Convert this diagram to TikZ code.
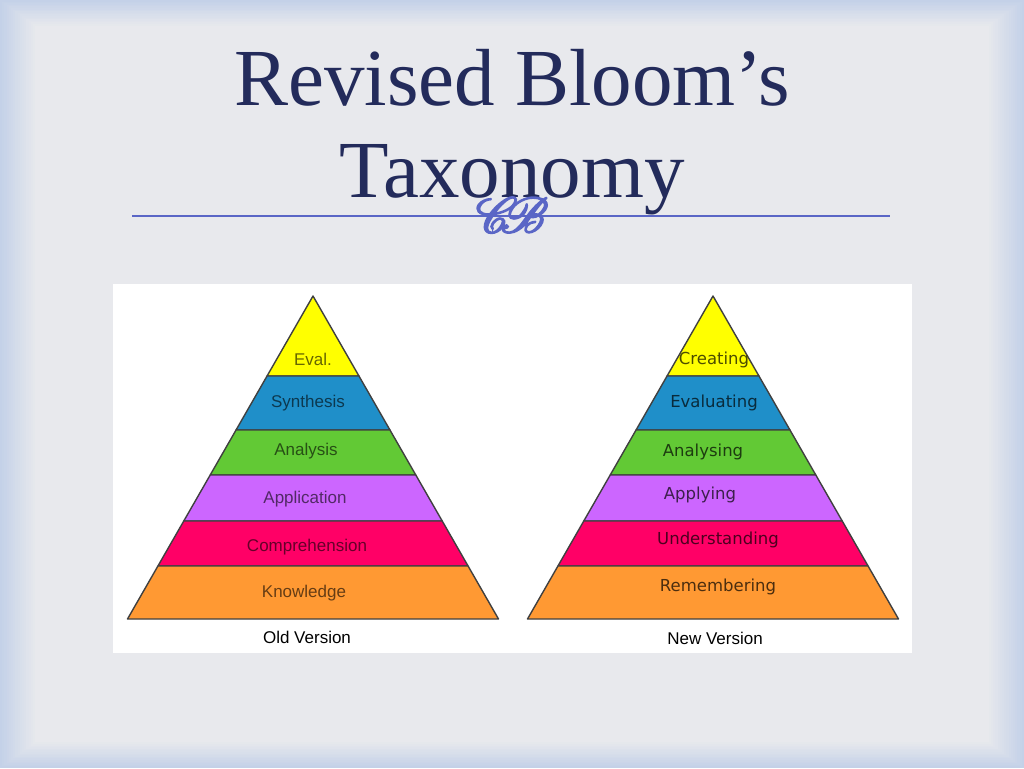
\documentclass[tikz,border=0pt]{standalone}
\usepackage{fontspec}
\usepackage{mathrsfs}
\setmainfont{Liberation Serif}
\newfontfamily\labelfont{Liberation Sans}
\newfontfamily\newlabelfont{DejaVu Sans}

\definecolor{titleblue}{HTML}{232B5B}
\definecolor{ruleblue}{HTML}{5A66C6}
\definecolor{frameblue}{HTML}{C4D1E8}
\definecolor{slidegray}{HTML}{E9EAED}
\definecolor{bandyellow}{HTML}{FFFF00}
\definecolor{bandblue}{HTML}{1F8FC9}
\definecolor{bandgreen}{HTML}{62C935}
\definecolor{bandpurple}{HTML}{CC66FF}
\definecolor{bandpink}{HTML}{FF0066}
\definecolor{bandorange}{HTML}{FF9933}

\tikzset{
	band/.style={draw=black!75,line width=1.4pt,line join=round},
	bandtext/.style={font=\labelfont\fontsize{17}{20}\selectfont},
	newbandtext/.style={font=\newlabelfont\fontsize{16.5}{20}\selectfont},
	caption/.style={font=\labelfont\fontsize{17}{20}\selectfont,text=black}
}

\begin{document}
\begin{tikzpicture}[x=1pt,y=-1pt]
	\useasboundingbox (0,0) rectangle (1024,768);
	\foreach \i in {0,...,16} {
		\pgfmathtruncatemacro\mix{100-6*\i}
		\fill[frameblue!\mix!slidegray] (2.2*\i,1.6*\i) rectangle (1024-2.2*\i,768-1.6*\i);
	}
	\node[anchor=base,text=titleblue,font=\fontsize{81}{92}\selectfont] (title1) at (512,105) {Revised Bloom’s};
	\node[anchor=base,text=titleblue,font=\fontsize{81}{92}\selectfont] (title2) at (512,197) {Taxonomy};
	\coordinate (ruleL) at (132,216);
	\coordinate (ruleR) at (890,216);
	\draw[ruleblue,line width=1.2pt] (ruleL) -- (ruleR);
	\node[text=ruleblue,scale=5,inner sep=0pt] (fleuron) at (512,215) {\special{pdf:literal direct 2 Tr 0.3 w}$\mathscr{C}\mkern-6mu\mathscr{B}$\special{pdf:literal direct 0 Tr}};
	\fill[white] (113,284) rectangle (912,653);
	\foreach \cx in {313,713} {
		\foreach \ytop/\ybot/\col in {296/376/bandyellow,376/430/bandblue,430/475/bandgreen,475/521/bandpurple,521/566/bandpink,566/619/bandorange} {
			\pgfmathsetmacro\wt{(\ytop-296)/323*185.5}
			\pgfmathsetmacro\wb{(\ybot-296)/323*185.5}
			\draw[band,fill=\col] (\cx-\wt,\ytop) -- (\cx+\wt,\ytop) -- (\cx+\wb,\ybot) -- (\cx-\wb,\ybot) -- cycle;
		}
	}
	\foreach \x/\y/\col/\txt [count=\i] in {313/359/bandyellow/Eval.,308/403/bandblue/Synthesis,306/451/bandgreen/Analysis,305/499/bandpurple/Application,307/547/bandpink/Comprehension,304/593/bandorange/Knowledge}
		\node[bandtext,text=\col!40!black] (old\i) at (\x,\y) {\txt};
	\foreach \x/\y/\col/\txt [count=\i] in {714/360/bandyellow/Creating,714/403/bandblue/Evaluating,703/452/bandgreen/Analysing,700/495/bandpurple/Applying,718/540/bandpink/Understanding,718/587/bandorange/Remembering}
		\node[newbandtext,text=\col!30!black] (new\i) at (\x,\y) {\txt};
	\node[caption] (oldcap) at (307,637) {Old Version};
	\node[caption] (newcap) at (715,638) {New Version};
\end{tikzpicture}
\end{document}
